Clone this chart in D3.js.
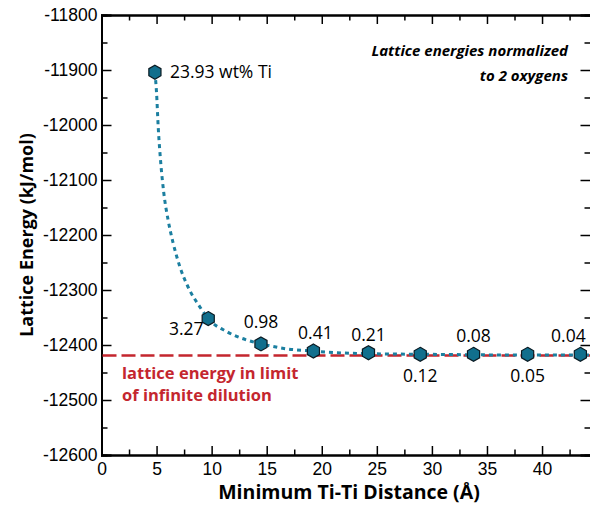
<!DOCTYPE html>
<html>
<head>
<meta charset="utf-8">
<script src="https://cdnjs.cloudflare.com/ajax/libs/d3/7.8.5/d3.min.js"></script>
<style>
  body { margin: 0; background: #fff; }
  svg { display: block; font-family: "Open Sans", Lato, sans-serif; }
</style>
</head>
<body>
<div id="chart"></div>
<script>
// data
const distances = [4.85, 9.69, 14.48, 19.24, 24.24, 28.94, 33.78, 38.69, 43.48];
const energies = [-11904, -12352, -12398, -12411, -12414, -12417, -12417, -12417, -12417];
const wtLabels = ['23.93 wt% Ti', '3.27', '0.98', '0.41', '0.21', '0.12', '0.08', '0.05', '0.04'];
// fitted curve
const fitX = [4.85, 5.0, 5.15, 5.36, 5.66, 6.05, 6.51, 7.12, 7.87, 8.94, 9.69, 11.4, 13.2, 14.5, 16.8, 19.2, 21.4, 25, 30, 36, 44.4];
const fitY = [-11904, -11942, -12004, -12064, -12124, -12173, -12215, -12258, -12295, -12331, -12352, -12376, -12391, -12398, -12407, -12411, -12414, -12416, -12417, -12418, -12418];
const dilutionLimit = -12419;
const xTicks = [0, 5, 10, 15, 20, 25, 30, 35, 40];
const yTicks = [-11800, -11900, -12000, -12100, -12200, -12300, -12400, -12500, -12600];

// dimensions
const WIDTH = 590;
const HEIGHT = 511;
const MARGIN_TOP = 15;
const MARGIN_BOTTOM = 56;
const MARGIN_LEFT = 101.5;
const MARGIN_RIGHT = -0.5;

const TEAL = '#116f8d';
const CURVE = '#1b7fa0';
const RED = '#c4262e';

const $svg = d3.select('#chart').append('svg')
  .attr('width', WIDTH)
  .attr('height', HEIGHT);

const x = d3.scaleLinear()
  .domain([0, 44.4])
  .range([MARGIN_LEFT, WIDTH - MARGIN_RIGHT]);
const y = d3.scaleLinear()
  .domain([-12600, -11800])
  .range([HEIGHT - MARGIN_BOTTOM, MARGIN_TOP]);

const xMinor = d3.range(2.5, 44.4, 5);
const yMinor = d3.range(-12550, -11800, 100);

// axes, ticks pointing inward
function styleAxis($g) {
  $g.selectAll('.domain').attr('stroke', '#000').attr('stroke-width', 2);
  $g.selectAll('.tick line').attr('stroke', '#000').attr('stroke-width', 1.5);
  $g.selectAll('text').attr('fill', '#000').style('font-size', '17.5px');
}

const y0 = y(-12600);
const yTop = y(-11800);
const xLeft = x(0);
const xRight = x(44.4);

// minor ticks first
$svg.append('g').attr('transform', `translate(0,${y0})`)
  .call(d3.axisBottom(x).tickValues(xMinor).tickSize(-5.5).tickFormat(''))
  .call(styleAxis);
$svg.append('g').attr('transform', `translate(0,${yTop})`)
  .call(d3.axisTop(x).tickValues(xMinor).tickSize(-5.5).tickFormat(''))
  .call(styleAxis);
$svg.append('g').attr('transform', `translate(${xLeft},0)`)
  .call(d3.axisLeft(y).tickValues(yMinor).tickSize(-6).tickFormat(''))
  .call(styleAxis);
$svg.append('g').attr('transform', `translate(${xRight},0)`)
  .call(d3.axisRight(y).tickValues(yMinor).tickSize(-6).tickFormat(''))
  .call(styleAxis);

// major ticks
$svg.append('g').attr('transform', `translate(0,${y0})`)
  .call(d3.axisBottom(x).tickValues(xTicks).tickSize(-9).tickPadding(8))
  .call(styleAxis);
$svg.append('g').attr('transform', `translate(0,${yTop})`)
  .call(d3.axisTop(x).tickValues(xTicks).tickSize(-9).tickFormat(''))
  .call(styleAxis);
$svg.append('g').attr('transform', `translate(${xLeft},0)`)
  .call(d3.axisLeft(y).tickValues(yTicks).tickSize(-10).tickPadding(4).tickFormat(d => String(d)))
  .call(styleAxis);
$svg.append('g').attr('transform', `translate(${xRight},0)`)
  .call(d3.axisRight(y).tickValues(yTicks).tickSize(-10).tickFormat(''))
  .call(styleAxis);

// axis titles
$svg.append('text')
  .attr('x', 349).attr('y', 499)
  .attr('text-anchor', 'middle')
  .style('font-size', '19.5px').style('font-weight', 'bold')
  .text('Minimum Ti-Ti Distance (Å)');
$svg.append('text')
  .attr('transform', `translate(33,${(y0 + yTop) / 2}) rotate(-90)`)
  .attr('text-anchor', 'middle')
  .style('font-size', '18px').style('font-weight', 'bold')
  .text('Lattice Energy (kJ/mol)');

// limit of infinite dilution
$svg.append('line')
  .attr('x1', xLeft + 1).attr('x2', xRight)
  .attr('y1', y(dilutionLimit)).attr('y2', y(dilutionLimit))
  .attr('stroke', RED).attr('stroke-width', 2.5)
  .attr('stroke-dasharray', '14,5');
$svg.append('text')
  .attr('fill', RED)
  .style('font-size', '16.5px').style('font-weight', 'bold')
  .selectAll('tspan')
  .data(['lattice energy in limit', 'of infinite dilution'])
  .join('tspan')
  .attr('x', 122)
  .attr('y', (d, i) => 379 + i * 22)
  .text(d => d);

// fitted curve
const fit = fitX.map((d, i) => [d, fitY[i]]);
$svg.append('path')
  .datum(fit)
  .attr('fill', 'none')
  .attr('stroke', CURVE)
  .attr('stroke-width', 3)
  .attr('stroke-dasharray', '4,4')
  .attr('d', d3.line().x(d => x(d[0])).y(d => y(d[1])).curve(d3.curveMonotoneX));

// hexagon markers
const hex = d3.range(6).map(k => {
  const a = (Math.PI / 3) * k - Math.PI / 2;
  return [7 * Math.cos(a), 7 * Math.sin(a)];
});
const points = distances.map((d, i) => ({ dist: d, energy: energies[i], label: wtLabels[i] }));
$svg.append('g').selectAll('path')
  .data(points)
  .join('path')
  .attr('transform', d => `translate(${x(d.dist)},${y(d.energy)})`)
  .attr('d', 'M' + hex.join('L') + 'Z')
  .attr('fill', TEAL)
  .attr('stroke', '#0a1a22')
  .attr('stroke-width', 1.2);

// point labels (offsets in px)
const labelOffsets = [[15, 6, 'start'], [-22, 16, 'middle'], [0, -16, 'middle'], [2, -12, 'middle'],
  [0, -12, 'middle'], [0, 28, 'middle'], [0, -12, 'middle'], [0, 28, 'middle'], [-12, -12, 'middle']];
$svg.append('g').selectAll('text')
  .data(points)
  .join('text')
  .attr('x', (d, i) => x(d.dist) + labelOffsets[i][0])
  .attr('y', (d, i) => y(d.energy) + labelOffsets[i][1])
  .attr('text-anchor', (d, i) => labelOffsets[i][2])
  .style('font-size', '17.5px')
  .text(d => d.label);

// note
$svg.append('text')
  .attr('text-anchor', 'end')
  .style('font-size', '15px').style('font-weight', 'bold').style('font-style', 'italic')
  .selectAll('tspan')
  .data(['Lattice energies normalized', 'to 2 oxygens'])
  .join('tspan')
  .attr('x', 568)
  .attr('y', (d, i) => 56 + i * 25)
  .text(d => d);
</script>
</body>
</html>
